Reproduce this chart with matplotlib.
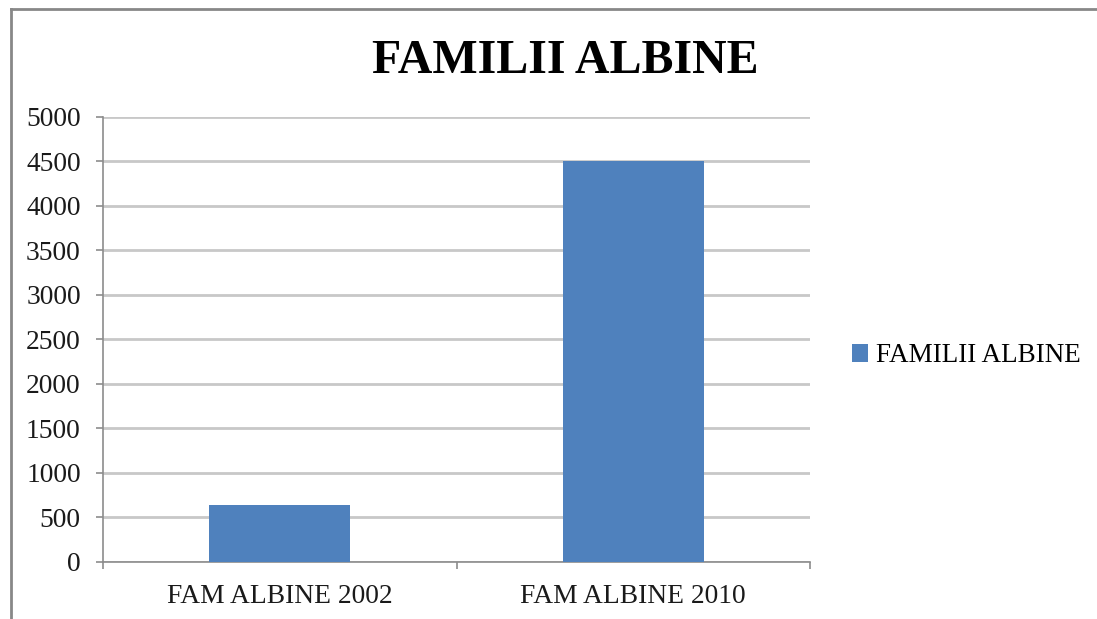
import matplotlib.pyplot as plt
from matplotlib.lines import Line2D
from matplotlib.patches import Patch

categories = ['FAM ALBINE 2002', 'FAM ALBINE 2010']
values = [640, 4500]
series_name = 'FAMILII ALBINE'
chart_title = 'FAMILII ALBINE'
yticks = [0, 500, 1000, 1500, 2000, 2500, 3000, 3500, 4000, 4500, 5000]

bar_color = '#4F81BD'
grid_color = '#C8C8C8'
axis_color = '#8C8C8C'

plt.rcParams['font.family'] = ['Liberation Serif', 'DejaVu Serif']

fig = plt.figure(figsize=(10.97, 6.19), dpi=100)
ax = fig.add_axes([103 / 1097, 1 - 561.7 / 619, (810 - 103) / 1097, (561.7 - 116.7) / 619])

x = list(range(len(categories)))
ax.bar(x, values, width=0.4, color=bar_color, zorder=3)

ax.set_xlim(-0.5, len(categories) - 0.5)
ax.set_ylim(0, 5000)
ax.set_yticks(yticks)
ax.set_yticklabels([str(v) for v in yticks])
ax.yaxis.grid(True, color=grid_color, lw=2, zorder=0)

ax.set_xticks(x)
ax.set_xticklabels(categories)
ax.set_xticks([i - 0.5 for i in range(len(categories) + 1)], minor=True)
ax.tick_params(axis='x', which='major', length=0, pad=16, labelsize=19.8, colors='#1a1a1a')
ax.tick_params(axis='x', which='minor', length=5, width=1.2, color=axis_color, direction='out')
ax.tick_params(axis='y', length=5, width=1.2, color=axis_color, pad=11, labelsize=19.8, labelcolor='#1a1a1a')

for side in ['top', 'right']:
    ax.spines[side].set_visible(False)
for side in ['left', 'bottom']:
    ax.spines[side].set_color(axis_color)
    ax.spines[side].set_linewidth(1.2)

fig.text(565 / 1097, 1 - 61 / 619, chart_title, ha='center', va='center',
         fontsize=34.5, fontweight='bold', color='black')

handle = Patch(facecolor=bar_color, edgecolor='none')
fig.legend([handle], [series_name], loc='center left',
           bbox_to_anchor=(852 / 1097, 1 - 356 / 619), frameon=False,
           handlelength=0.6, handleheight=0.6, handletextpad=0.3,
           borderpad=0, borderaxespad=0, fontsize=19.5)

# outer chart border (runs off the right and bottom edges)
fig.add_artist(Line2D([10.5 / 1097, 10.5 / 1097], [0, 1 - 8.5 / 619],
                      transform=fig.transFigure, color='#888888', lw=2))
fig.add_artist(Line2D([10.5 / 1097, 1], [1 - 8.5 / 619, 1 - 8.5 / 619],
                      transform=fig.transFigure, color='#888888', lw=2))

fig.savefig('out.png', dpi=100)
